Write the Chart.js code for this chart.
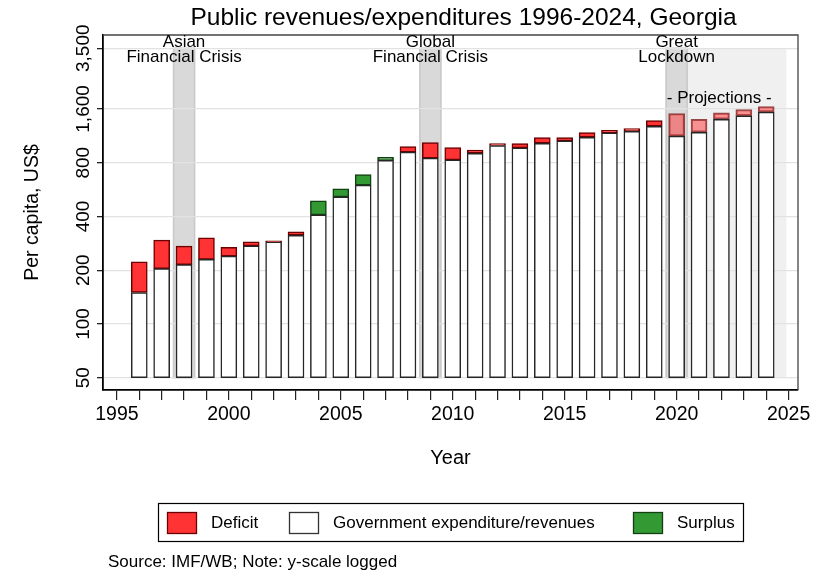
<!DOCTYPE html>
<html>
<head>
<meta charset="utf-8">
<title>Public revenues/expenditures 1996-2024, Georgia</title>
<script src="https://cdn.jsdelivr.net/npm/chart.js@4.4.1/dist/chart.umd.min.js"></script>
<style>
  html, body { margin: 0; padding: 0; background: #fff; }
  #wrap { position: relative; width: 814px; height: 571px; }
</style>
</head>
<body>
<div id="wrap"><canvas id="fiscalChart" width="814" height="571"></canvas></div>
<script>
// Per capita general government revenue and expenditure, US$
const years = [1996, 1997, 1998, 1999, 2000, 2001, 2002, 2003, 2004, 2005,
               2006, 2007, 2008, 2009, 2010, 2011, 2012, 2013, 2014, 2015,
               2016, 2017, 2018, 2019, 2020, 2021, 2022, 2023, 2024];
const revenues = [150, 204, 215, 230, 240, 274, 288, 314, 489, 571,
                  687, 856, 916, 848, 830, 904, 999, 968, 1028, 1059,
                  1111, 1175, 1200, 1280, 1126, 1185, 1401, 1462, 1534];
const expenditures = [223, 295, 273, 304, 269, 288, 292, 328, 408, 515,
                      599, 826, 986, 1038, 973, 940, 1025, 1025, 1107, 1107,
                      1180, 1216, 1243, 1378, 1508, 1401, 1520, 1588, 1651];
const firstProjectionYear = 2020;

const yTicks = [50, 100, 200, 400, 800, 1600, 3500];
const baseValue = 50;

// shaded periods: [from, to, label lines, label year]
const crises = [
  [1997.5, 1998.5, ['Asian', 'Financial Crisis'], 1998],
  [2008.5, 2009.5, ['Global', 'Financial Crisis'], 2009],
  [2019.5, 2020.5, ['Great', 'Lockdown'], 2020]
];
const projectionSpan = [2020.5, 2024.9];

const FONT = '"Liberation Sans", Arial, Helvetica, sans-serif';
const isProjection = yr => yr >= firstProjectionYear;

const baseData = [], deficitData = [], surplusData = [];
years.forEach((yr, i) => {
  const rev = revenues[i], exp = expenditures[i];
  baseData.push({x: yr, y: [baseValue, Math.min(rev, exp)]});
  if (exp > rev) {
    deficitData.push({x: yr, y: [rev, exp]});
  } else if (rev > exp) {
    surplusData.push({x: yr, y: [exp, rev]});
  }
});

const decor = {
  id: 'fiscalDecor',
  beforeDraw(chart) {
    const {ctx, scales: {x, y}} = chart;
    const top = y.getPixelForValue(yTicks[yTicks.length - 1]);
    const bottom = y.getPixelForValue(baseValue);
    ctx.save();
    // projection period
    const p0 = x.getPixelForValue(projectionSpan[0]);
    const p1 = x.getPixelForValue(projectionSpan[1]);
    ctx.fillStyle = '#f0f0f0';
    ctx.fillRect(p0, top, p1 - p0, bottom - top);
    // crisis years
    crises.forEach(c => {
      const a = x.getPixelForValue(c[0]);
      const b = x.getPixelForValue(c[1]);
      ctx.fillStyle = '#d9d9d9';
      ctx.fillRect(a, top, b - a, bottom - top);
      ctx.strokeStyle = '#c9c9c9';
      ctx.lineWidth = 1.5;
      ctx.strokeRect(a + 0.75, top, b - a - 1.5, bottom - top);
    });
    ctx.restore();
  },
  afterDraw(chart) {
    const {ctx, chartArea: area, scales: {x, y}} = chart;
    ctx.save();

    // plot region outline
    ctx.strokeStyle = '#444';
    ctx.lineWidth = 1.3;
    ctx.beginPath();
    ctx.moveTo(area.left, area.top);
    ctx.lineTo(area.right, area.top);
    ctx.lineTo(area.right, area.bottom);
    ctx.stroke();

    ctx.fillStyle = '#000';
    ctx.textBaseline = 'alphabetic';

    // period labels
    ctx.font = '17px ' + FONT;
    ctx.textAlign = 'center';
    crises.forEach(c => {
      const cx = x.getPixelForValue(c[3]);
      ctx.fillText(c[2][0], cx, 46.5);
      ctx.fillText(c[2][1], cx, 62.3);
    });
    ctx.fillText('- Projections -', x.getPixelForValue(2021.9), 103);

    // title
    ctx.font = '24.5px ' + FONT;
    ctx.fillText('Public revenues/expenditures 1996-2024, Georgia', 463.5, 25);

    // legend
    ctx.strokeStyle = '#000';
    ctx.lineWidth = 1.2;
    ctx.strokeRect(158.5, 503.5, 585, 38);
    const items = [
      ['Deficit', '#ff3333', '#6b0000', 167.5],
      ['Government expenditure/revenues', '#ffffff', '#333333', 289.5],
      ['Surplus', '#339933', '#134013', 633.5]
    ];
    ctx.font = '17px ' + FONT;
    ctx.textAlign = 'left';
    ctx.textBaseline = 'middle';
    items.forEach(it => {
      ctx.fillStyle = it[1];
      ctx.fillRect(it[3], 512.5, 29, 21);
      ctx.strokeStyle = it[2];
      ctx.lineWidth = 1.3;
      ctx.strokeRect(it[3], 512.5, 29, 21);
      ctx.fillStyle = '#000';
      ctx.fillText(it[0], it[3] + 43.5, 523.5);
    });

    // note
    ctx.font = '17px ' + FONT;
    ctx.fillText('Source: IMF/WB; Note: y-scale logged', 108, 562);
    ctx.restore();
  }
};

const ctx = document.getElementById('fiscalChart').getContext('2d');
const fiscalChart = new Chart(ctx, {
  type: 'bar',
  data: {
    datasets: [
      {
        label: 'Government expenditure/revenues',
        data: baseData,
        backgroundColor: '#ffffff',
        borderColor: '#262626',
        borderWidth: 1.5,
        borderSkipped: false,
        grouped: false,
        barThickness: 16
      },
      {
        label: 'Deficit',
        data: deficitData,
        backgroundColor: c => isProjection(c.raw.x) ? 'rgba(255,51,51,0.5)' : '#ff3333',
        borderColor: c => isProjection(c.raw.x) ? 'rgba(110,0,0,0.7)' : '#6b0000',
        borderWidth: 1.5,
        borderSkipped: false,
        grouped: false,
        barThickness: 16
      },
      {
        label: 'Surplus',
        data: surplusData,
        backgroundColor: '#339933',
        borderColor: '#134013',
        borderWidth: 1.5,
        borderSkipped: false,
        grouped: false,
        barThickness: 16
      }
    ]
  },
  options: {
    responsive: false,
    devicePixelRatio: 1,
    animation: false,
    layout: {padding: {top: 35, right: 16, bottom: 91, left: 0}},
    plugins: {
      legend: {display: false},
      title: {display: false},
      tooltip: {enabled: false}
    },
    scales: {
      x: {
        type: 'linear',
        offset: false,
        min: 1994.38,
        max: 2025.42,
        afterBuildTicks: scale => {
          scale.ticks = [];
          for (let yr = 1995; yr <= 2025; yr++) {
            scale.ticks.push({value: yr});
          }
        },
        afterFit: scale => { scale.height = 90; },
        ticks: {
          autoSkip: false,
          maxRotation: 0,
          padding: 3,
          color: '#000',
          font: {family: FONT, size: 19.5},
          callback: v => v % 5 === 0 ? String(v) : ''
        },
        grid: {drawOnChartArea: false, offset: false, tickLength: 10, tickColor: '#222', lineWidth: 1.2},
        border: {color: '#000', width: 1.8},
        title: {
          display: true,
          text: 'Year',
          color: '#000',
          font: {family: FONT, size: 20},
          padding: {top: 0, bottom: 10}
        }
      },
      y: {
        type: 'logarithmic',
        min: 42.7,
        max: 4150,
        afterBuildTicks: scale => {
          scale.ticks = yTicks.map(v => ({value: v}));
        },
        afterFit: scale => { scale.width = 103; },
        ticks: {
          minRotation: 90,
          maxRotation: 90,
          crossAlign: 'center',
          padding: -11,
          color: '#000',
          font: {family: FONT, size: 19},
          callback: v => v.toLocaleString('en-US')
        },
        grid: {color: '#e2e2e2', lineWidth: 1.3, tickLength: 6, tickColor: '#222'},
        border: {color: '#000', width: 1.8},
        title: {
          display: true,
          text: 'Per capita, US$',
          color: '#000',
          font: {family: FONT, size: 19.5},
          padding: {top: 21, bottom: 0}
        }
      }
    }
  },
  plugins: [decor]
});
</script>
</body>
</html>
